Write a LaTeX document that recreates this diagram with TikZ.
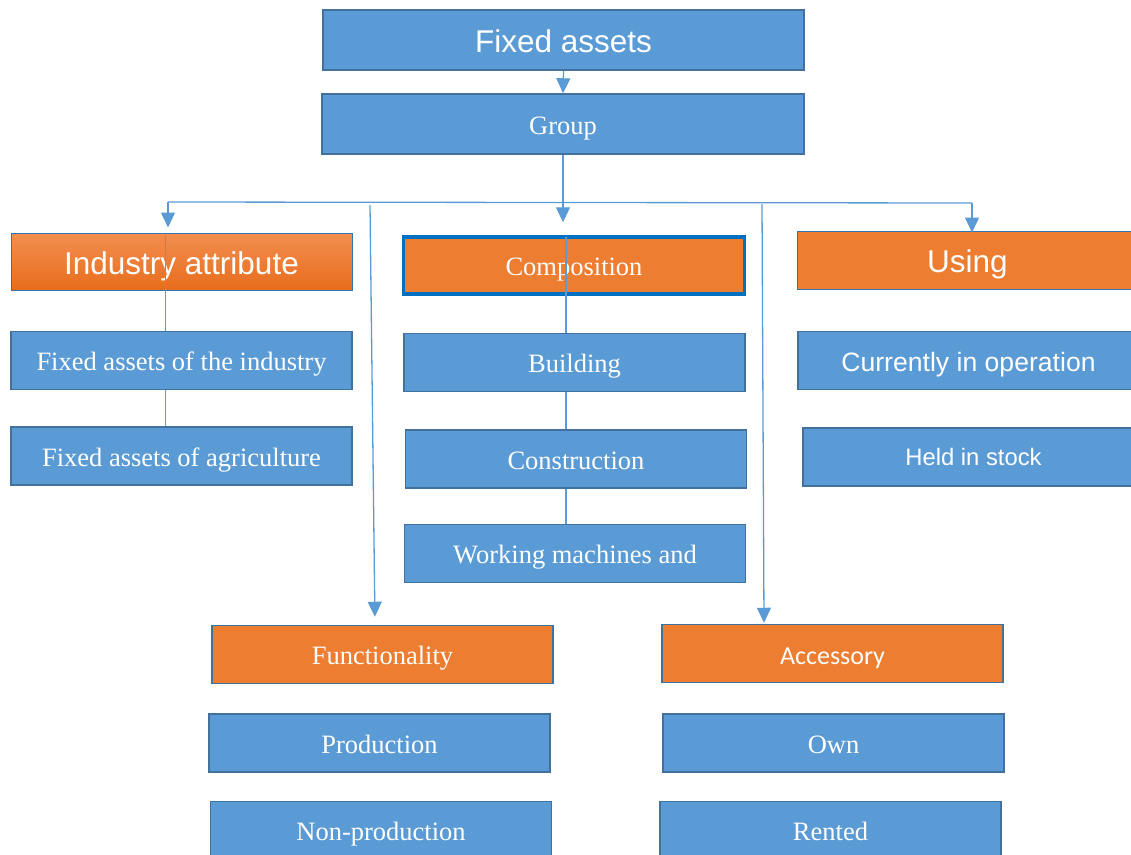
\documentclass[tikz,border=0pt]{standalone}
\usepackage{fontspec}
\setmainfont{Liberation Serif}
\newfontfamily\arialfont{Liberation Sans}
\newfontfamily\calibrifont{Carlito}
\usetikzlibrary{arrows.meta, positioning}

\definecolor{boxblue}{HTML}{5B9BD5}
\definecolor{boxline}{HTML}{41719C}
\definecolor{boxorange}{HTML}{ED7D31}
\definecolor{linkblue}{HTML}{5B9BD5}
\definecolor{edgeblue}{HTML}{2E75B6}
\definecolor{compedge}{HTML}{0070C0}
\definecolor{indtop}{HTML}{F28E50}
\definecolor{indbot}{HTML}{E86D1C}

\newcommand\bigsans{\arialfont\fontsize{31.5}{36}\selectfont}
\newcommand\midsans{\arialfont\fontsize{26.6}{30}\selectfont}
\newcommand\smallsans{\arialfont\fontsize{23.8}{28}\selectfont}
\newcommand\midserif{\fontsize{26.5}{30}\selectfont}
\newcommand\lightsans{\calibrifont\fontsize{26}{30}\selectfont}

\tikzset{
  bluebox/.style={draw=boxline, fill=boxblue, line width=1.5pt, text=white,
    minimum width=341pt, minimum height=58pt, inner sep=0pt, font=\midserif,
    text height=20.6pt, text depth=0pt},
  orangebox/.style={bluebox, fill=boxorange},
  bigtext/.style={font=\bigsans, text height=25pt},
  midtext/.style={font=\midsans, text height=22.4pt},
  smalltext/.style={font=\smallsans, text height=18pt},
  lighttext/.style={font=\lightsans, text height=21pt},
  link/.style={draw=linkblue, line width=1.3pt},
  arr/.style={link, -{Triangle[length=15pt,width=14pt]}}
}

\begin{document}
\begin{tikzpicture}[x=1pt, y=-1pt]
  \useasboundingbox (0,0) rectangle (1131,854);

  %Define nodes
  \node[bluebox, bigtext, minimum width=481pt, minimum height=60pt] (fixed) at (563.5,40) {Fixed assets};
  \node[bluebox, minimum width=482pt, minimum height=60pt] (group) at (563,124) {Group};

  \node[bluebox, bigtext, draw=edgeblue, line width=1pt, top color=indtop, bottom color=indbot,
    minimum height=57pt] (attr) at (181.5,261.5) {Industry attribute};
  \node[bluebox, below=40pt of attr] (ind1) {Fixed assets of the industry};
  \node[bluebox, below=36pt of ind1] (ind2) {Fixed assets of agriculture};

  \node[orangebox, draw=compedge, line width=3.5pt, minimum height=57pt] (comp) at (574,265.5) {Composition};
  \node[bluebox, below=37pt of comp, xshift=0.5pt] (build) {Building};
  \node[bluebox, below=37pt of build, xshift=1.5pt] (constr) {Construction};
  \node[bluebox, below=35pt of constr, xshift=-1pt] (work) {Working machines and};

  \node[orangebox, bigtext, draw=edgeblue, line width=1pt] (use) at (967.5,260) {Using};
  \node[bluebox, midtext, below=41pt of use, xshift=1pt] (cur) {Currently in operation};
  \node[bluebox, smalltext, below=37pt of cur, xshift=5pt] (stock) {Held in stock};

  \node[orangebox] (func) at (382.5,654.5) {Functionality};
  \node[bluebox, below=29pt of func, xshift=-3pt] (prod) {Production};
  \node[bluebox, below=28pt of prod, xshift=1.5pt] (nonprod) {Non-production};

  \node[orangebox, lighttext] (acc) at (832.5,653.5) {Accessory};
  \node[bluebox, below=30pt of acc, xshift=1pt] (own) {Own};
  \node[bluebox, below=28pt of own, xshift=-3pt] (rented) {Rented};

  % Bus and drop points
  \coordinate (busL) at (168,202);
  \coordinate (busR) at (972,203);
  \coordinate (funcTop) at (370,205);
  \coordinate (accTop) at (762,204);
  \coordinate (spine) at (566,0);

  % Connect the nodes
  \draw[arr] (fixed.south) -- (group.north);
  \draw[arr, shorten >=13pt] (group.south) -- (group.south |- comp.north);
  \draw[link] (busL) -- (busR);
  \draw[arr, shorten >=5pt] (busL) -- (busL |- attr.north);
  \draw[arr, shorten >=-2pt] (busR) -- (busR |- use.north);
  \draw[arr, shorten >=8pt] (funcTop) -- ([xshift=-7.5pt]func.north);
  \draw[arr, shorten >=1pt] (accTop) -- ([xshift=-68.5pt]acc.north);

  \draw[link] ([xshift=-16pt, yshift=-3pt]attr.north) -- ([xshift=-16pt]ind1.north);
  \draw[link] ([xshift=-16pt]ind1.south) -- ([xshift=-16pt]ind2.north);

  \draw[link] ([yshift=-2pt]comp.north -| spine) -- (build.north -| spine);
  \draw[link] (build.south -| spine) -- (constr.north -| spine);
  \draw[link] (constr.south -| spine) -- (work.north -| spine);

\end{tikzpicture}
\end{document}
